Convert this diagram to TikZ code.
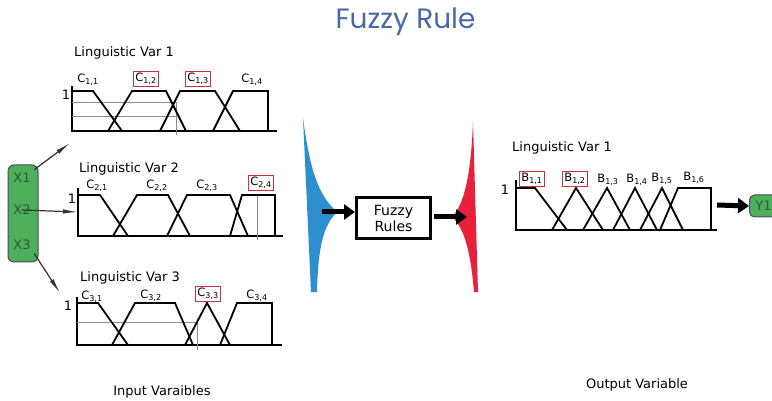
\documentclass[tikz,border=0pt]{standalone}
\usepackage{fontspec}
\setmainfont{DejaVu Sans}
\newfontfamily\titlefont{Poppins}
\usetikzlibrary{arrows.meta}
\definecolor{titleblue}{HTML}{4A68A8}
\definecolor{boxgreen}{HTML}{4DAF5C}
\definecolor{textgreen}{HTML}{2F5A35}
\definecolor{fuzblue}{HTML}{2E8FCF}
\definecolor{fuzred}{HTML}{E8203A}
\definecolor{selred}{HTML}{C8323A}
\begin{document}
\begin{tikzpicture}[x=1pt,y=-1pt,
mf/.style={line width=1.8pt,line join=miter},
cut/.style={black!45,line width=0.5pt},
lab/.style={font=\fontsize{13}{13}\selectfont,inner sep=0pt},
mfset/.style={font=\fontsize{11.5}{11.5}\selectfont,inner sep=1pt},
sel/.style={mfset,draw=selred,line width=1pt,inner sep=1.5pt},
fat/.style={line width=5pt,-{Triangle[length=11pt,width=15pt]}},
inarrow/.style={draw=black!80,line width=1.2pt,-{Latex[length=15pt,width=4.5pt]}},
greenbox/.style={draw=black!70,fill=boxgreen,line width=1pt,text=textgreen,font=\fontsize{13}{13}\selectfont}]
\path[use as bounding box,fill=white](0,0)rectangle(772,401);
\node[font=\titlefont\fontsize{28}{28}\selectfont,text=titleblue](title)at(405.5,22){Fuzzy Rule};
\node[greenbox,rounded corners=6pt,minimum width=30pt,minimum height=97pt](xin)at(23,213.5){};
\node[text=textgreen,font=\fontsize{13}{13}\selectfont](x1)at(22,178){X1};
\node[text=textgreen,font=\fontsize{13}{13}\selectfont](x2)at(22,210){X2};
\node[text=textgreen,font=\fontsize{13}{13}\selectfont](x3)at(22,245){X3};
\coordinate(p1)at(70,143);
\coordinate(p2)at(78,212);
\coordinate(p3)at(60,293);
\draw[inarrow](x1.north east)--(p1);
\draw[inarrow](x2.center)--(p2);
\draw[inarrow](x3.south east)--(p3);
\node[lab](var1)at(124,53){Linguistic Var 1};
\node[lab](one1)at(66,95){1};
\draw[mf](72,86)--(72,131)--(277,131);
\draw[cut](72,102)--(176,102)(72,116)--(176,116)(176,102)--(176,135);
\draw[mf](72,91)--(93,91)--(122,131);
\draw[mf](108,131)--(132,91)--(166,91)--(186,131);
\draw[mf](160,131)--(180,91)--(215,91)--(240,131);
\draw[mf](213,131)--(233,91)--(268,91)--(268,131);
\node[mfset](c11)at(88,80){C\textsubscript{1,1}};
\node[sel](c12)at(146,79){C\textsubscript{1,2}};
\node[sel](c13)at(198,79){C\textsubscript{1,3}};
\node[mfset](c14)at(252,80){C\textsubscript{1,4}};
\node[lab](var2)at(129,169){Linguistic Var 2};
\node[lab](one2)at(72,199){1};
\draw[mf](78,188)--(78,236)--(283,236);
\draw[cut](257,195)--(257,240);
\draw[mf](78,195)--(100,195)--(128,236);
\draw[mf](113,236)--(137,195)--(168,195)--(190,236);
\draw[mf](167,236)--(187,195)--(230,195)--(248,236);
\draw[mf](230,236)--(242,195)--(275,195)--(275,236);
\node[mfset](c21)at(97,186){C\textsubscript{2,1}};
\node[mfset](c22)at(157,186){C\textsubscript{2,2}};
\node[mfset](c23)at(207,186){C\textsubscript{2,3}};
\node[sel](c24)at(261,183){C\textsubscript{2,4}};
\node[lab](var3)at(130,278){Linguistic Var 3};
\node[lab](one3)at(68,306){1};
\draw[mf](77,297)--(77,345)--(282,345);
\draw[cut](77,322)--(197,322)--(197,350);
\draw[mf](77,303)--(98,303)--(128,345);
\draw[mf](112,345)--(135,303)--(175,303)--(193,345);
\draw[mf](185,345)--(207,303)--(230,345);
\draw[mf](220,345)--(237,303)--(272,303)--(272,345);
\node[mfset](c31)at(92,297){C\textsubscript{3,1}};
\node[mfset](c32)at(151,296){C\textsubscript{3,2}};
\node[sel](c33)at(208,294){C\textsubscript{3,3}};
\node[mfset](c34)at(257,296){C\textsubscript{3,4}};
\fill[fuzblue](303,118)..controls(310,170)and(318,195)..(337,212)..controls(324,225)and(318,245)..(317,292)--(311,292)--cycle;
\fill[fuzred](473,122)..controls(471,175)and(464,205)..(452,217)..controls(465,228)and(471,255)..(474,292)--(478,292)--cycle;
\node[draw,line width=3pt,minimum width=74pt,minimum height=41pt,align=center,font=\fontsize{14}{16}\selectfont](rules)at(393.5,218){Fuzzy\\Rules};
\coordinate(bl)at(322,212);
\coordinate(rd)at(467,217);
\draw[fat](bl)--(bl-|rules.west);
\draw[fat]([xshift=2pt]rd-|rules.east)--(rd);
\node[lab](outvar)at(562,148){Linguistic Var 1};
\node[lab](oneo)at(505,190){1};
\draw[mf](516,180)--(516,230)--(717,230);
\draw[mf](516,188)--(535,188)--(567,230);
\draw[mf](552,230)--(576,188)--(603,230);
\draw[mf](583,230)--(607,188)--(630,230);
\draw[mf](613,230)--(635,188)--(657,230);
\draw[mf](640,230)--(662,188)--(683,230);
\draw[mf](660,230)--(678,188)--(711,188)--(711,230);
\node[sel](b11)at(532,179){B\textsubscript{1,1}};
\node[sel](b12)at(575,179){B\textsubscript{1,2}};
\node[mfset](b13)at(608,180){B\textsubscript{1,3}};
\node[mfset](b14)at(637,180){B\textsubscript{1,4}};
\node[mfset](b15)at(662,179){B\textsubscript{1,5}};
\node[mfset](b16)at(694,178){B\textsubscript{1,6}};
\node[greenbox,rounded corners=5pt,minimum width=28pt,minimum height=22pt,anchor=west](y1)at(749,206){Y1};
\coordinate(oa)at(717,205);
\draw[fat](oa)--(y1.west);
\node[font=\fontsize{13}{13}\selectfont](inlab)at(162,392){Input Varaibles};
\node[font=\fontsize{13}{13}\selectfont](outlab)at(637,385){Output Variable};
\end{tikzpicture}
\end{document}
